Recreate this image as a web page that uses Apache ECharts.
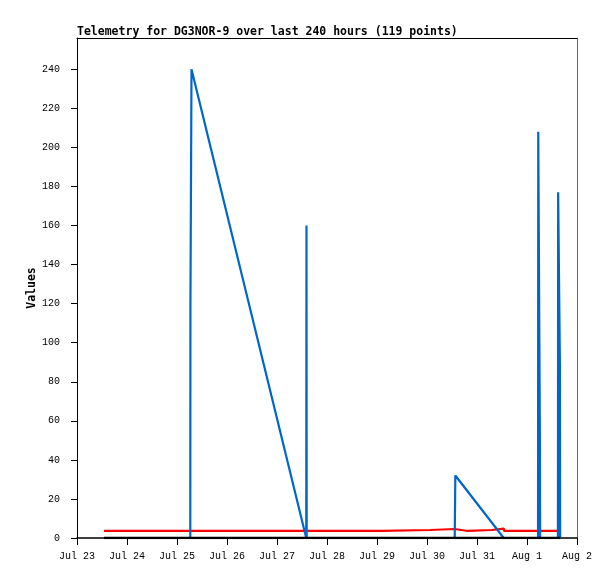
<!DOCTYPE html>
<html>
<head>
<meta charset="utf-8">
<script src="https://cdn.jsdelivr.net/npm/echarts@6/dist/echarts.min.js"></script>
<style>
html,body{margin:0;padding:0;background:#fff;}
#chart{width:615px;height:579px;}
</style>
</head>
<body>
<div id="chart"></div>
<script>
// x values are hours since Jul 23 00:00
var xTickValues = [0, 24, 48, 72, 96, 120, 144, 168, 192, 216, 240];
var xTickLabels = ['Jul 23', 'Jul 24', 'Jul 25', 'Jul 26', 'Jul 27', 'Jul 28', 'Jul 29', 'Jul 30', 'Jul 31', 'Aug 1', 'Aug 2'];
var yTickValues = [0, 20, 40, 60, 80, 100, 120, 140, 160, 180, 200, 220, 240];

var redHours  = [12.96, 146.3, 146.4, 169.6, 169.7, 181.2, 181.3, 187.6, 187.7, 199.1, 199.2, 204.9, 205.0, 230.9];
var redValues = [3.6,   3.6,   4.1,   4.1,   4.6,   4.6,   3.6,   3.6,   4.1,   4.1,   4.8,   4.8,   3.6,   3.6];

var blueHours  = [12.96, 54.38, 54.45, 54.96, 110.04, 110.15, 110.25, 181.3, 181.6, 204.84, 221.3, 221.4, 222.2, 222.3, 230.85, 230.95, 231.8, 231.9];
var blueValues = [0,     0,     120,   240,   0,      160,    0,      0,     32,    0,      0,     208,   48,    0,     0,      177,    88,    0];

var blackHours  = [12.96, 232.0];
var blackValues = [0, 0];

function pairs(xs, ys) {
  var out = [];
  for (var i = 0; i < xs.length; i++) out.push([xs[i], ys[i]]);
  return out;
}

var tickFont = 'Liberation Mono';
var boldFont = 'DejaVu Sans Mono';

var chart = echarts.init(document.getElementById('chart'), null, {renderer: 'canvas'});
chart.setOption({
  backgroundColor: '#ffffff',
  animation: false,
  title: {
    text: 'Telemetry for DG3NOR-9 over last 240 hours (119 points)',
    left: 77,
    top: 26,
    padding: 0,
    textStyle: {fontFamily: boldFont, fontSize: 11.5, fontWeight: 'bold', color: '#000'}
  },
  grid: {left: 77, top: 38, width: 500, height: 500, containLabel: false},
  xAxis: [{
    type: 'value',
    min: 0, max: 240,
    interval: 24,
    axisLine: {show: true, onZero: false, lineStyle: {color: '#000', width: 1.5}},
    axisTick: {show: true, length: 7, customValues: xTickValues, lineStyle: {color: '#000', width: 1}},
    axisLabel: {
      show: true, margin: 13, customValues: xTickValues,
      fontFamily: tickFont, fontSize: 10, color: '#000',
      formatter: function (v) {
        var i = xTickValues.indexOf(v);
        return i >= 0 ? xTickLabels[i] : '';
      }
    },
    splitLine: {show: false}
  }, {
    type: 'value', position: 'top',
    min: 0, max: 240,
    axisLine: {show: true, onZero: false, lineStyle: {color: '#000', width: 1}},
    axisTick: {show: false}, axisLabel: {show: false}, splitLine: {show: false}
  }],
  yAxis: [{
    type: 'value',
    min: 0, max: 256,
    interval: 20,
    name: 'Values',
    nameLocation: 'middle',
    nameGap: 39,
    nameRotate: 90,
    nameMoveOverlap: false,
    nameTextStyle: {fontFamily: boldFont, fontSize: 11.5, fontWeight: 'bold', color: '#000'},
    axisLine: {show: true, onZero: false, lineStyle: {color: '#000', width: 1}},
    axisTick: {show: true, length: 6, customValues: yTickValues, lineStyle: {color: '#000', width: 1}},
    axisLabel: {show: true, margin: 17, customValues: yTickValues, fontFamily: tickFont, fontSize: 10, color: '#000'},
    splitLine: {show: false}
  }, {
    type: 'value', position: 'right',
    min: 0, max: 256,
    axisLine: {show: true, onZero: false, lineStyle: {color: '#666', width: 1}},
    axisTick: {show: false}, axisLabel: {show: false}, splitLine: {show: false}
  }],
  series: [{
    type: 'line',
    name: 'red',
    data: pairs(redHours, redValues),
    showSymbol: false,
    symbol: 'none',
    lineStyle: {color: '#ff0000', width: 2.2},
    z: 2
  }, {
    type: 'line',
    name: 'blue',
    data: pairs(blueHours, blueValues),
    showSymbol: false,
    symbol: 'none',
    lineStyle: {color: '#0066cc', width: 2.2},
    z: 3
  }, {
    type: 'line',
    name: 'black',
    data: pairs(blackHours, blackValues),
    showSymbol: false,
    symbol: 'none',
    lineStyle: {color: '#000000', width: 2.5},
    z: 4
  }]
});
</script>
</body>
</html>
